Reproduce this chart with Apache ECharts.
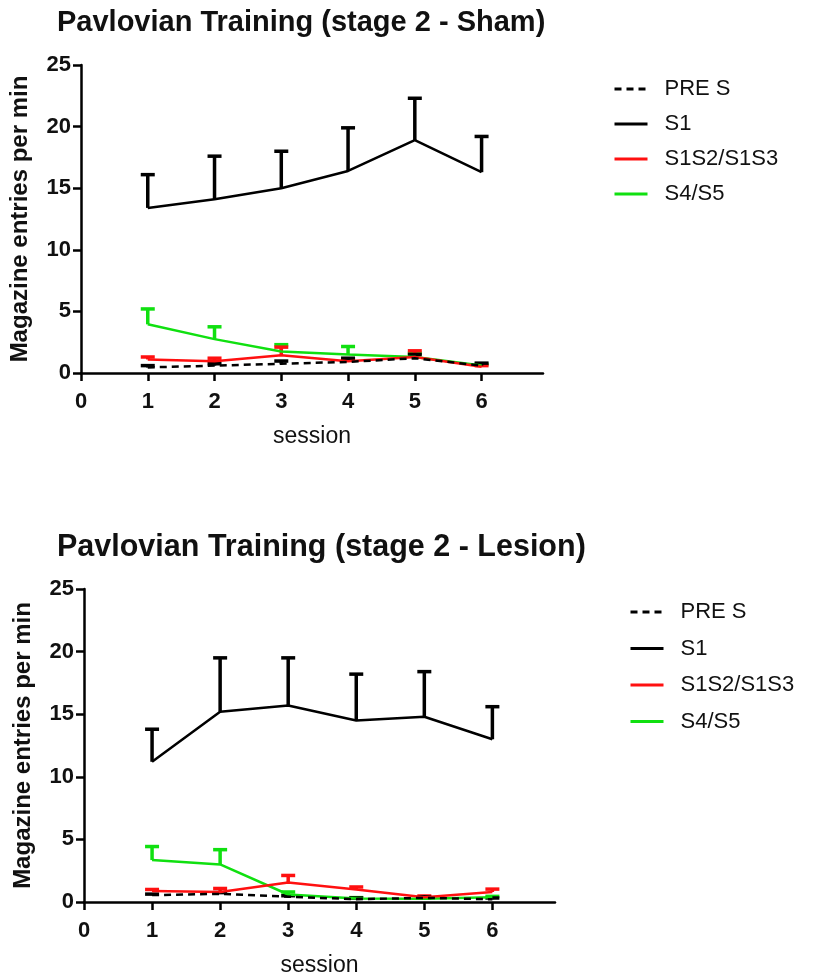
<!DOCTYPE html>
<html>
<head>
<meta charset="utf-8">
<script src="https://cdn.jsdelivr.net/npm/echarts@6/dist/echarts.min.js"></script>
<style>
  html, body { margin: 0; padding: 0; background: #fff; }
  #chart { width: 817px; height: 978px; }
</style>
</head>
<body>
<div id="chart"></div>
<script>
  // sessions 1..6
  const sessions = [1, 2, 3, 4, 5, 6];
  const xTicks = [0, 1, 2, 3, 4, 5, 6];
  const yTicks = [0, 5, 10, 15, 20, 25];
  const seriesNames = ['PRE S', 'S1', 'S1S2/S1S3', 'S4/S5'];

  // Sham - means and SEM (upper whisker only)
  const shamPre = [0.45, 0.6, 0.75, 0.9, 1.2, 0.6];
  const shamPreSem = [0.15, 0.15, 0.22, 0.3, 0.3, 0.2];
  const shamS1 = [13.4, 14.1, 15.0, 16.4, 18.9, 16.3];
  const shamS1Sem = [2.7, 3.5, 3.0, 3.5, 3.4, 2.9];
  const shamS1S2 = [1.1, 0.95, 1.45, 0.95, 1.3, 0.5];
  const shamS1S2Sem = [0.2, 0.25, 0.65, 0.15, 0.5, 0.1];
  const shamS4 = [3.95, 2.75, 1.75, 1.5, 1.3, 0.6];
  const shamS4Sem = [1.25, 1.0, 0.55, 0.65, 0.3, 0.1];

  // Lesion
  const lesPre = [0.55, 0.65, 0.42, 0.22, 0.33, 0.22];
  const lesPreSem = [0.08, 0.1, 0.08, 0.1, 0.08, 0.1];
  const lesS1 = [11.2, 15.2, 15.7, 14.5, 14.8, 13.0];
  const lesS1Sem = [2.6, 4.3, 3.8, 3.7, 3.6, 2.6];
  const lesS1S2 = [0.88, 0.8, 1.56, 1.0, 0.38, 0.8];
  const lesS1S2Sem = [0.12, 0.28, 0.56, 0.2, 0.1, 0.23];
  const lesS4 = [3.35, 3.0, 0.6, 0.28, 0.25, 0.38];
  const lesS4Sem = [1.08, 1.18, 0.2, 0.07, 0.05, 0.07];

  const colors = { 'PRE S': '#000', 'S1': '#000', 'S1S2/S1S3': '#ff1010', 'S4/S5': '#10e010' };
  const FONT = 'Liberation Sans, Arial, sans-serif';

  const pairs = (ys) => sessions.map((x, i) => [x, ys[i]]);

  const lineSeries = (name, ys, idx) => ({
    name,
    type: 'line',
    xAxisIndex: idx,
    yAxisIndex: idx,
    data: pairs(ys),
    symbol: 'none',
    z: name === 'S1' ? 5 : 3,
    lineStyle: {
      color: colors[name],
      width: 2.5,
      type: name === 'PRE S' ? [7, 5] : 'solid',
    },
    itemStyle: { color: colors[name] },
  });

  // upper error bar with cap
  const errSeries = (name, ys, sem, idx) => ({
    name,
    type: 'custom',
    xAxisIndex: idx,
    yAxisIndex: idx,
    data: sessions.map((x, i) => [x, ys[i], ys[i] + sem[i]]),
    z: name === 'S1' ? 5 : 3,
    renderItem: (params, api) => {
      const p0 = api.coord([api.value(0), api.value(1)]);
      const p1 = api.coord([api.value(0), api.value(2)]);
      const half = 7;
      const style = { stroke: colors[name], lineWidth: 3.5, fill: null };
      return {
        type: 'group',
        children: [
          { type: 'line', shape: { x1: p0[0], y1: p0[1], x2: p1[0], y2: p1[1] }, style },
          { type: 'line', shape: { x1: p1[0] - half, y1: p1[1], x2: p1[0] + half, y2: p1[1] }, style },
        ],
      };
    },
  });

  const makeX = (idx) => ({
    type: 'value',
    gridIndex: idx,
    min: 0,
    max: 6.92,
    interval: 1,
    name: 'session',
    nameLocation: 'middle',
    nameGap: 52,
    nameTextStyle: { fontFamily: FONT, fontSize: 23, color: '#111' },
    axisLine: { lineStyle: { color: '#000', width: 2.5 } },
    axisTick: { show: true, length: 8, lineStyle: { color: '#000', width: 2.5 }, customValues: xTicks },
    axisLabel: { fontFamily: FONT, fontSize: 22, fontWeight: 'bold', color: '#111', margin: 18, customValues: xTicks },
    splitLine: { show: false },
  });

  const makeY = (idx) => ({
    type: 'value',
    gridIndex: idx,
    min: 0,
    max: 25,
    interval: 5,
    name: 'Magazine entries per min',
    nameLocation: 'middle',
    nameGap: 49,
    nameTextStyle: { fontFamily: FONT, fontSize: 24, fontWeight: 'bold', color: '#111' },
    axisLine: { show: true, lineStyle: { color: '#000', width: 2.5 } },
    axisTick: { show: true, length: 8, lineStyle: { color: '#000', width: 2.5 }, customValues: yTicks },
    axisLabel: { fontFamily: FONT, fontSize: 22, fontWeight: 'bold', color: '#111', margin: 10, customValues: yTicks },
    splitLine: { show: false },
  });

  const makeLegend = (left, top, gap) => ({
    data: seriesNames,
    orient: 'vertical',
    left,
    top,
    padding: 0,
    itemWidth: 33,
    itemHeight: 14,
    itemGap: gap,
    selectedMode: false,
    itemStyle: { opacity: 0 },
    lineStyle: { width: 3 },
    textStyle: { fontFamily: FONT, fontSize: 22, color: '#111', padding: [0, 0, 0, 12] },
  });

  const chart = echarts.init(document.getElementById('chart'));
  chart.setOption({
    animation: false,
    title: [
      { text: 'Pavlovian Training (stage 2 - Sham)', left: 52, top: 3,
        textStyle: { fontFamily: FONT, fontSize: 29, fontWeight: 'bold', color: '#111' } },
      { text: 'Pavlovian Training (stage 2 - Lesion)', left: 52, top: 527,
        textStyle: { fontFamily: FONT, fontSize: 30.5, fontWeight: 'bold', color: '#111' } },
    ],
    legend: [makeLegend(613, 78, 13), makeLegend(629, 601, 14.5)],
    grid: [
      { left: 81, top: 65, width: 462, height: 308 },
      { left: 84, top: 589, width: 471, height: 314 },
    ],
    xAxis: [makeX(0), makeX(1)],
    yAxis: [makeY(0), makeY(1)],
    series: [
      lineSeries('S4/S5', shamS4, 0), errSeries('S4/S5', shamS4, shamS4Sem, 0),
      lineSeries('S1S2/S1S3', shamS1S2, 0), errSeries('S1S2/S1S3', shamS1S2, shamS1S2Sem, 0),
      lineSeries('PRE S', shamPre, 0), errSeries('PRE S', shamPre, shamPreSem, 0),
      lineSeries('S1', shamS1, 0), errSeries('S1', shamS1, shamS1Sem, 0),
      lineSeries('S4/S5', lesS4, 1), errSeries('S4/S5', lesS4, lesS4Sem, 1),
      lineSeries('S1S2/S1S3', lesS1S2, 1), errSeries('S1S2/S1S3', lesS1S2, lesS1S2Sem, 1),
      lineSeries('PRE S', lesPre, 1), errSeries('PRE S', lesPre, lesPreSem, 1),
      lineSeries('S1', lesS1, 1), errSeries('S1', lesS1, lesS1Sem, 1),
    ],
  });
</script>
</body>
</html>
